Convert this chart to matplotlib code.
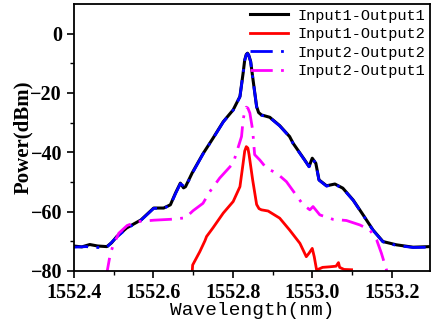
import matplotlib
matplotlib.use("Agg")
import matplotlib.pyplot as plt
import numpy as np

wl_11 = [1552.38, 1552.40, 1552.42, 1552.44, 1552.46, 1552.483, 1552.495, 1552.508, 1552.533,
         1552.569, 1552.601, 1552.626, 1552.643, 1552.656, 1552.668, 1552.676, 1552.681,
         1552.698, 1552.725, 1552.750, 1552.776, 1552.801, 1552.818, 1552.826, 1552.830,
         1552.834, 1552.837, 1552.840, 1552.845, 1552.851, 1552.860, 1552.865, 1552.872,
         1552.893, 1552.918, 1552.943, 1552.952, 1552.981, 1552.992, 1553.000, 1553.009,
         1553.017, 1553.036, 1553.057, 1553.077, 1553.103, 1553.128, 1553.153, 1553.178,
         1553.212, 1553.254, 1553.296, 1553.31]
p_11 = [-71.8, -71.6, -71.9, -71.1, -71.6, -71.8, -70.5, -68.4, -65.5,
        -62.8, -58.8, -58.8, -57.7, -53.7, -50.4, -52.0, -51.6,
        -46.9, -40.5, -35.3, -29.7, -25.7, -21.2, -13.3, -8.9,
        -7.0, -6.6, -7.2, -9.4, -15.6, -24.6, -26.6, -27.4,
        -28.2, -31.0, -34.7, -37.0, -42.6, -44.8, -42.0, -43.7,
        -49.3, -51.3, -50.7, -52.1, -56.1, -61.1, -66.2, -70.1,
        -71.2, -72.0, -71.8, -71.8]

wl_22 = [1552.38, 1552.40, 1552.43, 1552.46, 1552.483, 1552.508, 1552.533, 1552.569, 1552.601,
         1552.626, 1552.643, 1552.656, 1552.668, 1552.681, 1552.698, 1552.725, 1552.750,
         1552.776, 1552.801, 1552.818, 1552.826, 1552.830, 1552.834, 1552.837, 1552.840,
         1552.845, 1552.851, 1552.860, 1552.865, 1552.872, 1552.893, 1552.918, 1552.943,
         1552.952, 1552.981, 1552.992, 1553.000, 1553.009, 1553.017, 1553.036, 1553.057,
         1553.077, 1553.103, 1553.128, 1553.153, 1553.178, 1553.212, 1553.254, 1553.296, 1553.31]
p_22 = [-72.2, -72.0, -71.8, -72.1, -72.0, -68.6, -65.7, -62.9, -58.9,
        -58.9, -57.8, -53.9, -50.6, -51.8, -47.1, -40.6, -35.4,
        -29.8, -25.8, -21.3, -13.4, -9.0, -7.1, -6.7, -7.3,
        -9.5, -15.7, -24.7, -26.7, -27.5, -28.3, -31.1, -34.8,
        -37.1, -42.7, -44.9, -42.1, -43.8, -49.4, -51.4, -50.8,
        -52.2, -56.2, -61.2, -66.3, -70.2, -71.4, -72.1, -72.0, -72.0]

wl_12 = [1552.697, 1552.699, 1552.717, 1552.730, 1552.734, 1552.750, 1552.776, 1552.801,
         1552.818, 1552.826, 1552.830, 1552.834, 1552.838, 1552.841, 1552.850, 1552.860,
         1552.866, 1552.872, 1552.889, 1552.918, 1552.943, 1552.969, 1552.985, 1552.992,
         1553.000, 1553.005, 1553.011, 1553.026, 1553.045, 1553.060, 1553.066, 1553.069,
         1553.080, 1553.099]
p_12 = [-82.0, -78.0, -73.5, -69.8, -68.4, -65.5, -60.5, -56.6,
        -51.6, -43.7, -39.6, -38.1, -38.6, -40.8, -49.3, -57.6,
        -59.0, -59.4, -59.8, -62.2, -66.2, -70.7, -75.2, -74.0,
        -72.4, -75.2, -79.7, -78.8, -78.6, -78.4, -77.2, -78.8,
        -79.5, -79.6]

wl_21 = [1552.482, 1552.484, 1552.492, 1552.501, 1552.513, 1552.534, 1552.559, 1552.601,
         1552.643, 1552.681, 1552.700, 1552.725, 1552.742, 1552.767, 1552.801, 1552.822,
         1552.826, 1552.830, 1552.834, 1552.838, 1552.843, 1552.850, 1552.855, 1552.868,
         1552.885, 1552.910, 1552.935, 1552.956, 1552.977, 1552.994, 1553.002, 1553.019,
         1553.052, 1553.086, 1553.120, 1553.145, 1553.162, 1553.174, 1553.187, 1553.19]
p_21 = [-83.0, -80.0, -74.0, -70.7, -67.3, -64.7, -63.4, -62.9,
        -62.6, -62.1, -59.7, -57.2, -53.3, -48.7, -43.7, -34.7,
        -29.1, -26.2, -24.8, -25.1, -26.8, -32.5, -40.8, -42.6,
        -45.4, -47.0, -49.9, -53.8, -57.7, -59.4, -58.3, -61.1,
        -62.6, -63.0, -64.5, -66.2, -69.5, -74.0, -79.7, -83.0]

labels = ["Input1-Output1", "Input1-Output2", "Input2-Output2", "Input2-Output1"]

plt.figure(figsize=(4.32, 3.30), dpi=100)
ax = plt.axes([0.171, 0.179, 0.824, 0.809])

dd = (0, (8, 3, 1, 3))
ax.plot(wl_11, p_11, color="black", lw=2.2, label=labels[0])
ax.plot(wl_12, p_12, color="red", lw=2.0, label=labels[1])
ax.plot(wl_22, p_22, color="blue", lw=2.0, ls=dd, label=labels[2])
ax.plot(wl_21, p_21, color="magenta", lw=2.0, ls=dd, label=labels[3])

ax.set_xlim(1552.4, 1553.296)
ax.set_ylim(-80, 10)
ax.set_xticks(np.arange(1552.4, 1553.21, 0.2))
ax.set_xticks(np.arange(1552.5, 1553.3, 0.2), minor=True)
ax.set_yticks([-80, -60, -40, -20, 0])
ax.set_yticks([-70, -50, -30, -10], minor=True)
ax.tick_params(which="major", length=5, width=1.2, direction="out")
ax.tick_params(which="minor", length=3, width=1.0, direction="out")
for lab in ax.get_xticklabels() + ax.get_yticklabels():
    lab.set_fontfamily("Liberation Serif")
    lab.set_fontweight("bold")
    lab.set_fontsize(14.5)
for s in ax.spines.values():
    s.set_linewidth(1.3)

ax.set_xlabel("Wavelength(nm)", family="Liberation Mono", fontsize=14)
ax.set_ylabel("Power(dBm)", family="Liberation Serif", fontweight="bold", fontsize=15)
ax.xaxis.set_label_coords(0.5, -0.115)
ax.yaxis.set_label_coords(-0.115, 0.5)

ax.legend(loc="upper right", bbox_to_anchor=(1.0, 1.0), frameon=False,
          prop={"family": "Liberation Mono", "size": 11},
          handlelength=2.5, handletextpad=0.6, labelspacing=0.3,
          borderaxespad=0.1, borderpad=0.2)

plt.savefig("out.png", dpi=100)
